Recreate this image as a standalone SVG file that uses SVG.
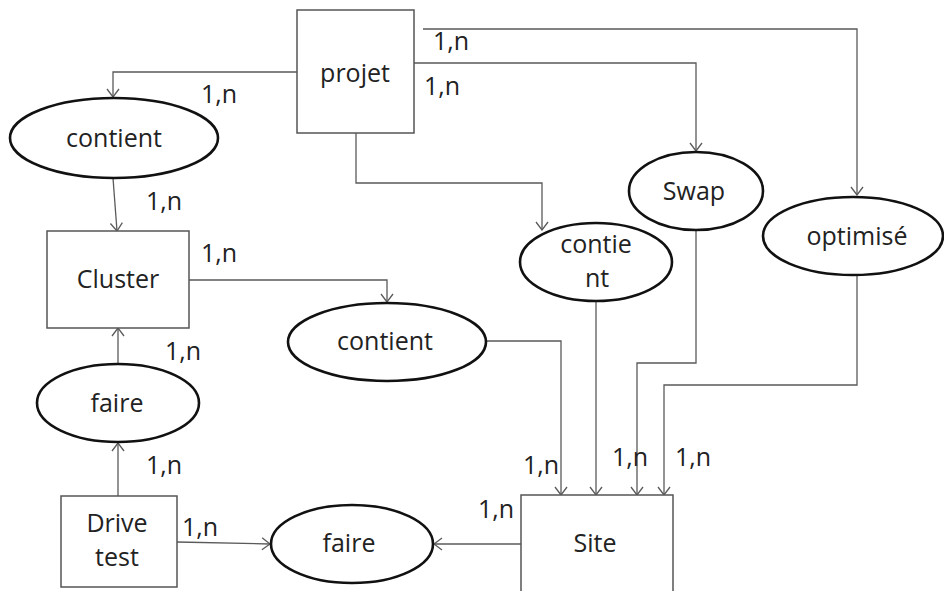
<svg xmlns="http://www.w3.org/2000/svg" width="944" height="591" viewBox="0 0 944 591">
<style>
text{font-family:"Open Sans","Noto Sans","Liberation Sans",sans-serif;font-size:25px;fill:#222}
.c{text-anchor:middle}
.ent{fill:#fff;stroke:#555;stroke-width:1.5}
.rel{fill:#fff;stroke:#111;stroke-width:2.6}
.ln{fill:none;stroke:#5a5a5a;stroke-width:1.3}
</style>
<defs>
<marker id="arr" markerUnits="userSpaceOnUse" viewBox="0 0 10 14" refX="9" refY="7" markerWidth="10" markerHeight="14" orient="auto">
<path d="M1,1 L9,7 L1,13" fill="none" stroke="#5a5a5a" stroke-width="1.3"/>
</marker>
</defs>
<g id="connectors">
<polyline class="ln" points="423,29 857,29 857,195" marker-end="url(#arr)"/>
<polyline class="ln" points="414,63 696,63 696,151" marker-end="url(#arr)"/>
<polyline class="ln" points="356,133 356,183 542,183 542,230" marker-end="url(#arr)"/>
<polyline class="ln" points="297,72 113,72 113,97" marker-end="url(#arr)"/>
<line class="ln" x1="113" y1="178" x2="117" y2="231" marker-end="url(#arr)"/>
<polyline class="ln" points="189,280 387,280 387,302" marker-end="url(#arr)"/>
<polyline class="ln" points="486,341 561,341 561,495" marker-end="url(#arr)"/>
<line class="ln" x1="596" y1="300" x2="596" y2="495" marker-end="url(#arr)"/>
<polyline class="ln" points="696,231 696,363 637,363 637,495" marker-end="url(#arr)"/>
<polyline class="ln" points="857,276 857,385 664,385 664,495" marker-end="url(#arr)"/>
<line class="ln" x1="521" y1="544" x2="434" y2="544" marker-end="url(#arr)"/>
<line class="ln" x1="177" y1="542" x2="270" y2="544" marker-end="url(#arr)"/>
<line class="ln" x1="118" y1="496" x2="118" y2="443" marker-end="url(#arr)"/>
<line class="ln" x1="118" y1="363" x2="118" y2="328" marker-end="url(#arr)"/>
</g>
<g id="projet"><rect class="ent" x="297" y="10" width="117" height="123"/><text class="c" x="355" y="82">projet</text></g>
<g id="cluster"><rect class="ent" x="47" y="231" width="142" height="97"/><text class="c" x="118" y="288">Cluster</text></g>
<g id="drivetest"><rect class="ent" x="61" y="496" width="116" height="91"/><text class="c" x="117" y="532">Drive</text><text class="c" x="117" y="566">test</text></g>
<g id="site"><rect class="ent" x="521" y="495" width="152" height="110"/><text class="c" x="595" y="552">Site</text></g>
<g id="contient1"><ellipse class="rel" cx="114" cy="138" rx="104" ry="40"/><text class="c" x="114" y="147">contient</text></g>
<g id="contient2"><ellipse class="rel" cx="387" cy="342" rx="99" ry="39"/><text class="c" x="385" y="350">contient</text></g>
<g id="contient3"><ellipse class="rel" cx="596" cy="262" rx="76" ry="39"/><text class="c" x="596" y="253">contie</text><text class="c" x="597" y="287">nt</text></g>
<g id="swap"><ellipse class="rel" cx="696" cy="191" rx="67" ry="39"/><text class="c" x="694" y="200">Swap</text></g>
<g id="optimise"><ellipse class="rel" cx="853" cy="236" rx="90" ry="39"/><text class="c" x="857" y="245">optimisé</text></g>
<g id="faire1"><ellipse class="rel" cx="118" cy="403" rx="81" ry="39"/><text class="c" x="117" y="412">faire</text></g>
<g id="faire2"><ellipse class="rel" cx="352" cy="544" rx="81" ry="39"/><text class="c" x="349" y="552">faire</text></g>
<g id="labels">
<text x="433" y="50">1,n</text>
<text x="424" y="95">1,n</text>
<text x="201" y="103">1,n</text>
<text x="146" y="210">1,n</text>
<text x="201" y="262">1,n</text>
<text x="165" y="360">1,n</text>
<text x="146" y="474">1,n</text>
<text x="182" y="536">1,n</text>
<text x="523" y="474">1,n</text>
<text x="612" y="466">1,n</text>
<text x="675" y="466">1,n</text>
<text x="478" y="518">1,n</text>
</g>
</svg>
